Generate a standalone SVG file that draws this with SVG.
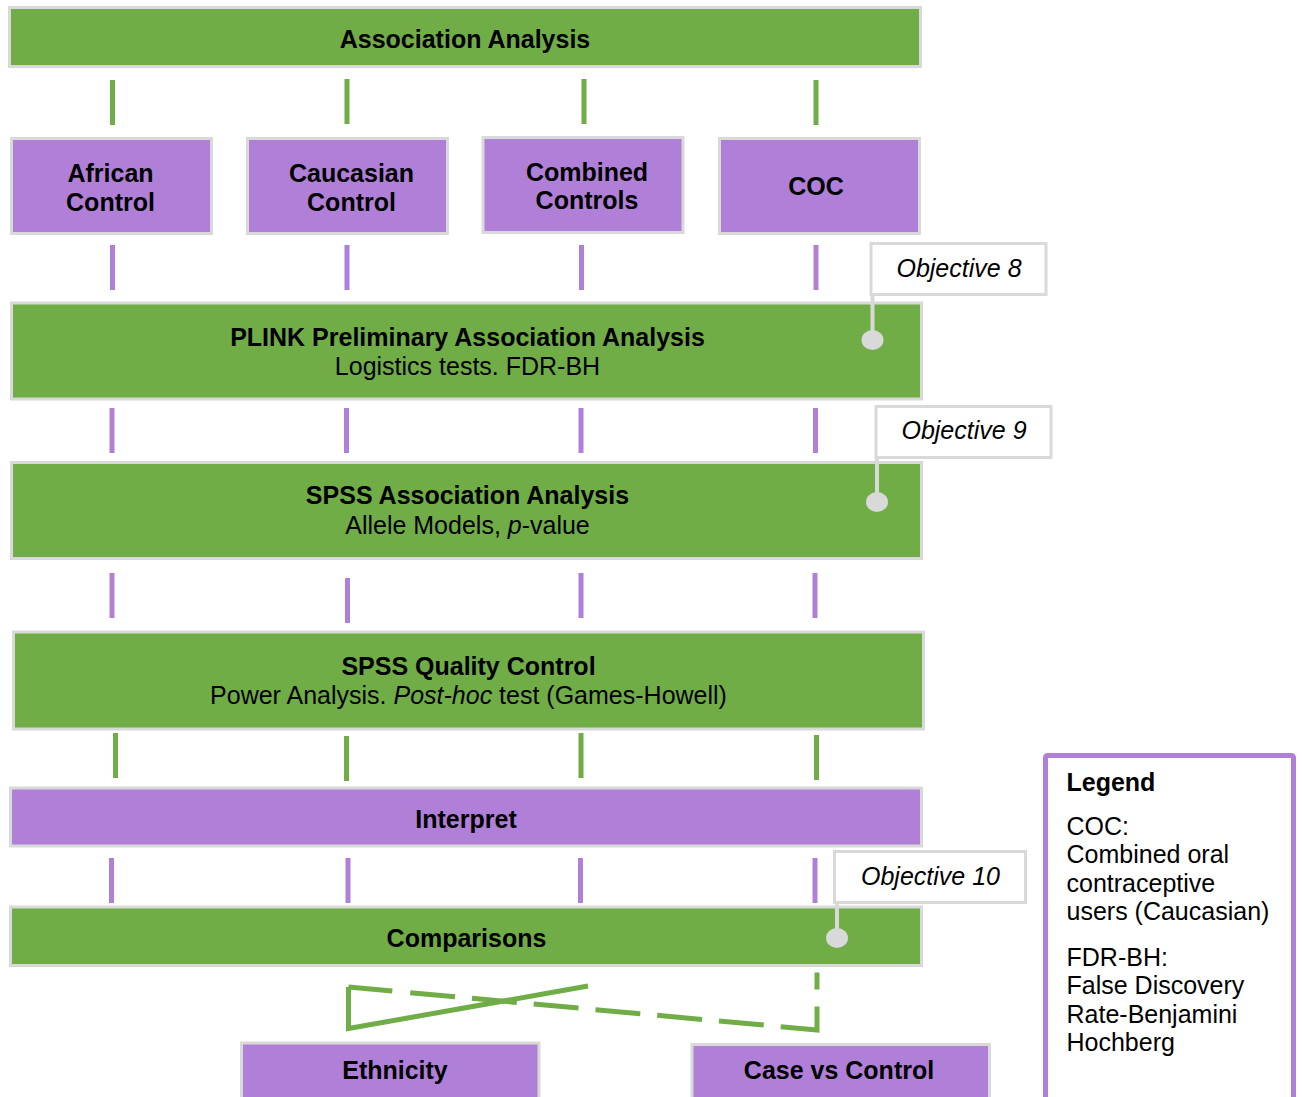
<svg xmlns="http://www.w3.org/2000/svg" width="1302" height="1097" viewBox="0 0 1302 1097">
<style>
  text { font-family: "Liberation Sans", Arial, sans-serif; font-size: 25px; fill: #000; }
  .b { font-weight: bold; }
  .i { font-style: italic; }
  .g { fill: #70AD47; stroke: #D9D9D9; stroke-width: 3; }
  .p { fill: #B07FD8; stroke: #D9D9D9; stroke-width: 3; }
  .call { fill: #FFFFFF; stroke: #D9D9D9; stroke-width: 3; }
  .cline { stroke: #D9D9D9; stroke-width: 4; fill: none; }
  .dot { fill: #D9D9D9; }
  .cg { stroke: #70AD47; stroke-width: 5; fill: none; }
  .cp { stroke: #B07FD8; stroke-width: 5; fill: none; }
  .m { text-anchor: middle; }
</style>
<rect width="1302" height="1097" fill="#FFFFFF"/>

<g id="connectors">
  <!-- top bar to columns (green) -->
  <line class="cg" x1="112.5" y1="80" x2="112.5" y2="125"/>
  <line class="cg" x1="347" y1="79" x2="347" y2="124"/>
  <line class="cg" x1="584" y1="79" x2="584" y2="124"/>
  <line class="cg" x1="816" y1="80" x2="816" y2="125"/>
  <!-- columns to PLINK (purple) -->
  <line class="cp" x1="112.5" y1="245" x2="112.5" y2="290"/>
  <line class="cp" x1="347" y1="245" x2="347" y2="290"/>
  <line class="cp" x1="581.5" y1="245" x2="581.5" y2="290"/>
  <line class="cp" x1="816" y1="245" x2="816" y2="290"/>
  <!-- PLINK to SPSS association -->
  <line class="cp" x1="112" y1="408" x2="112" y2="453"/>
  <line class="cp" x1="346.5" y1="408" x2="346.5" y2="453"/>
  <line class="cp" x1="581" y1="408" x2="581" y2="453"/>
  <line class="cp" x1="815.5" y1="408" x2="815.5" y2="453"/>
  <!-- SPSS association to QC -->
  <line class="cp" x1="112" y1="573" x2="112" y2="618"/>
  <line class="cp" x1="347.5" y1="578" x2="347.5" y2="623"/>
  <line class="cp" x1="581" y1="573" x2="581" y2="618"/>
  <line class="cp" x1="815" y1="573" x2="815" y2="618"/>
  <!-- QC to Interpret (green) -->
  <line class="cg" x1="115.5" y1="733" x2="115.5" y2="778"/>
  <line class="cg" x1="346.5" y1="736" x2="346.5" y2="781"/>
  <line class="cg" x1="581" y1="733" x2="581" y2="778"/>
  <line class="cg" x1="816.5" y1="735" x2="816.5" y2="780"/>
  <!-- Interpret to Comparisons (purple) -->
  <line class="cp" x1="111.5" y1="858" x2="111.5" y2="903"/>
  <line class="cp" x1="348" y1="858" x2="348" y2="903"/>
  <line class="cp" x1="580.5" y1="858" x2="580.5" y2="903"/>
  <line class="cp" x1="815" y1="858" x2="815" y2="903"/>
  <!-- Comparisons to outcomes -->
  <path class="cg" d="M588,986 L348.5,1028.5 L348.5,987"/>
  <path class="cg" stroke-dasharray="44 18 45 17 45 17 45 17 45 17 45 17 45 17 60 17 17 100" d="M348.5,987 L817,1030 L817,972.5"/>
</g>

<g id="node-association-analysis">
  <rect class="g" x="9.5" y="7.5" width="911" height="59"/>
  <text class="b m" x="465" y="47.5">Association Analysis</text>
</g>

<g id="node-african-control">
  <rect class="p" x="11.5" y="138.5" width="200" height="95"/>
  <text class="b m" x="110.5" y="182">African</text>
  <text class="b m" x="110.5" y="210.5">Control</text>
</g>

<g id="node-caucasian-control">
  <rect class="p" x="247.5" y="138.5" width="200" height="95"/>
  <text class="b m" x="351.5" y="182">Caucasian</text>
  <text class="b m" x="351.5" y="210.5">Control</text>
</g>

<g id="node-combined-controls">
  <rect class="p" x="483" y="137.5" width="200" height="95"/>
  <text class="b m" x="587" y="180.5">Combined</text>
  <text class="b m" x="587" y="208.5">Controls</text>
</g>

<g id="node-coc">
  <rect class="p" x="719.5" y="138.5" width="200" height="95"/>
  <text class="b m" x="816" y="194.5">COC</text>
</g>

<g id="node-plink">
  <rect class="g" x="11.5" y="303" width="910" height="96"/>
  <text class="b m" x="467.5" y="345.5">PLINK Preliminary Association Analysis</text>
  <text class="m" x="467.5" y="374.5">Logistics tests. FDR-BH</text>
</g>

<g id="node-spss-association">
  <rect class="g" x="11.5" y="462.5" width="910" height="96"/>
  <text class="b m" x="467.5" y="504">SPSS Association Analysis</text>
  <text class="m" x="467.5" y="533.5">Allele Models, <tspan class="i">p</tspan>-value</text>
</g>

<g id="node-spss-qc">
  <rect class="g" x="13.5" y="632" width="910" height="97"/>
  <text class="b m" x="468.5" y="674.5">SPSS Quality Control</text>
  <text class="m" x="468.5" y="704">Power Analysis. <tspan class="i">Post-hoc</tspan> test (Games-Howell)</text>
</g>

<g id="node-interpret">
  <rect class="p" x="10.5" y="788" width="911" height="58"/>
  <text class="b m" x="466" y="827.5">Interpret</text>
</g>

<g id="node-comparisons">
  <rect class="g" x="10.5" y="907" width="911" height="58.5"/>
  <text class="b m" x="466.5" y="947">Comparisons</text>
</g>

<g id="node-ethnicity">
  <rect class="p" x="241.5" y="1043" width="297.5" height="70"/>
  <text class="b m" x="395" y="1079">Ethnicity</text>
</g>

<g id="node-case-vs-control">
  <rect class="p" x="692" y="1044.5" width="297.5" height="70"/>
  <text class="b m" x="839" y="1079">Case vs Control</text>
</g>

<g id="callout-objective-8">
  <line class="cline" x1="872.5" y1="294" x2="872.5" y2="340"/>
  <ellipse class="dot" cx="872.5" cy="340" rx="11" ry="10"/>
  <rect class="call" x="871" y="243.5" width="175" height="51"/>
  <text class="i m" x="959" y="276.5">Objective 8</text>
</g>

<g id="callout-objective-9">
  <line class="cline" x1="877" y1="457" x2="877" y2="502"/>
  <ellipse class="dot" cx="877" cy="502" rx="11" ry="10"/>
  <rect class="call" x="876" y="406.5" width="175" height="51"/>
  <text class="i m" x="964" y="439">Objective 9</text>
</g>

<g id="callout-objective-10">
  <line class="cline" x1="837" y1="902" x2="837" y2="938"/>
  <ellipse class="dot" cx="837" cy="938" rx="11" ry="10"/>
  <rect class="call" x="834.5" y="851.5" width="191" height="51"/>
  <text class="i m" x="930.5" y="885">Objective 10</text>
</g>

<g id="legend">
  <rect x="1045.5" y="755.5" width="248" height="350" rx="2" fill="#FFFFFF" stroke="#B07FD8" stroke-width="5"/>
  <text class="b" x="1066.5" y="790.5">Legend</text>
  <text x="1066.5" y="834.5">COC:</text>
  <text x="1066.5" y="863">Combined oral</text>
  <text x="1066.5" y="891.5">contraceptive</text>
  <text x="1066.5" y="920">users (Caucasian)</text>
  <text x="1066.5" y="965.5">FDR-BH:</text>
  <text x="1066.5" y="994">False Discovery</text>
  <text x="1066.5" y="1022.5">Rate-Benjamini</text>
  <text x="1066.5" y="1051">Hochberg</text>
</g>
</svg>
